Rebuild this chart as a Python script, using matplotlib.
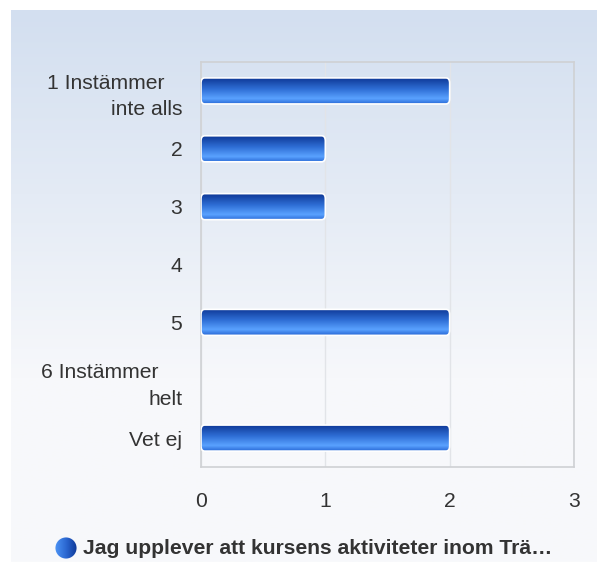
import numpy as np
import matplotlib.pyplot as plt
from matplotlib.colors import LinearSegmentedColormap
from matplotlib.patches import FancyBboxPatch, Circle

categories = ['1 Instämmer   \ninte alls', '2', '3', '4', '5', '6 Instämmer    \nhelt', 'Vet ej']
counts = [2, 1, 1, 0, 2, 0, 2]
x_ticks = [0, 1, 2, 3]
legend_label = 'Jag upplever att kursens aktiviteter inom Trä\u2026'

plt.rcParams['font.family'] = ['Liberation Sans', 'DejaVu Sans']

W, H = 597, 562
fig = plt.figure(figsize=(W / 100, H / 100), dpi=100)
fig.patch.set_facecolor('white')

# soft vertical background gradient behind the chart
bg = fig.add_axes([11 / W, 0, 1 - 11 / W, 1 - 10 / H])
bg_cmap = LinearSegmentedColormap.from_list('bg', ['#d3dff0', '#e4ebf5', '#f7f8fb', '#f8f9fb'])
bg.imshow(np.linspace(0, 1, 256).reshape(-1, 1), aspect='auto', cmap=bg_cmap,
          extent=[0, 1, 0, 1], origin='upper')
bg.set_axis_off()

left, right, top, bottom = 201, 574, 62, 467
ax = fig.add_axes([left / W, 1 - bottom / H, (right - left) / W, (bottom - top) / H])
ax.patch.set_alpha(0)
ax.set_xlim(0, 3)
ax.set_ylim(len(categories) - 0.5, -0.5)

ax.set_xticks(x_ticks)
ax.set_xticklabels([str(t) for t in x_ticks])
ax.set_yticks(range(len(categories)))
ax.set_yticklabels(categories, ha='right', multialignment='right', linespacing=1.5)
ax.tick_params(axis='both', length=0, labelsize=15.2, colors='#333333')
ax.tick_params(axis='x', pad=18)
ax.tick_params(axis='y', pad=13.5)
ax.grid(axis='x', color='#e2e4e8', linewidth=1)
ax.set_axisbelow(True)
for s in ax.spines.values():
    s.set_color('#cfd1d4')
    s.set_linewidth(1.2)

bar_cmap = LinearSegmentedColormap.from_list(
    'bar', [(0, '#0c3593'), (0.45, '#2f6fd6'), (0.8, '#5aa2ff'), (1, '#2a6cd8')])
grad = np.linspace(0, 1, 64).reshape(-1, 1)
bar_h = 0.45

bars = ax.barh(range(len(categories)), counts, height=bar_h, color='none', edgecolor='none')
for bar in bars:
    w = bar.get_width()
    if w <= 0:
        continue
    y0 = bar.get_y()
    shape = FancyBboxPatch((0, y0), w, bar_h,
                           boxstyle='round,pad=0,rounding_size=0.03',
                           mutation_aspect=3.0,
                           facecolor='none', edgecolor='white', linewidth=1.2,
                           zorder=4)
    ax.add_patch(shape)
    im = ax.imshow(grad, aspect='auto', cmap=bar_cmap,
                   extent=[0, w, y0 + bar_h, y0], origin='upper', zorder=3)
    im.set_clip_path(shape)

ax.set_xlim(0, 3)
ax.set_ylim(len(categories) - 0.5, -0.5)

# legend marker and label
leg = fig.add_axes([0, 0, 1, 1])
leg.set_xlim(0, W)
leg.set_ylim(H, 0)
leg.set_axis_off()
ax_dot = fig.add_axes([(66 - 11) / W, 1 - (548 + 11) / H, 22 / W, 22 / H])
ax_dot.set_axis_off()
dot = Circle((0.5, 0.5), 0.48, transform=ax_dot.transAxes, facecolor='none', edgecolor='none')
ax_dot.add_patch(dot)
dot_cmap = LinearSegmentedColormap.from_list('dot', ['#4d94f5', '#2a66d0', '#0c3593'])
dim = ax_dot.imshow(np.linspace(0, 1, 64).reshape(1, -1), aspect='auto', cmap=dot_cmap,
                    extent=[0, 1, 0, 1], transform=ax_dot.transAxes)
dim.set_clip_path(dot)
leg.text(83, 549, legend_label, fontsize=15.2, fontweight='bold', color='#333333',
         va='center', ha='left')

fig.savefig('out.png', dpi=100)
